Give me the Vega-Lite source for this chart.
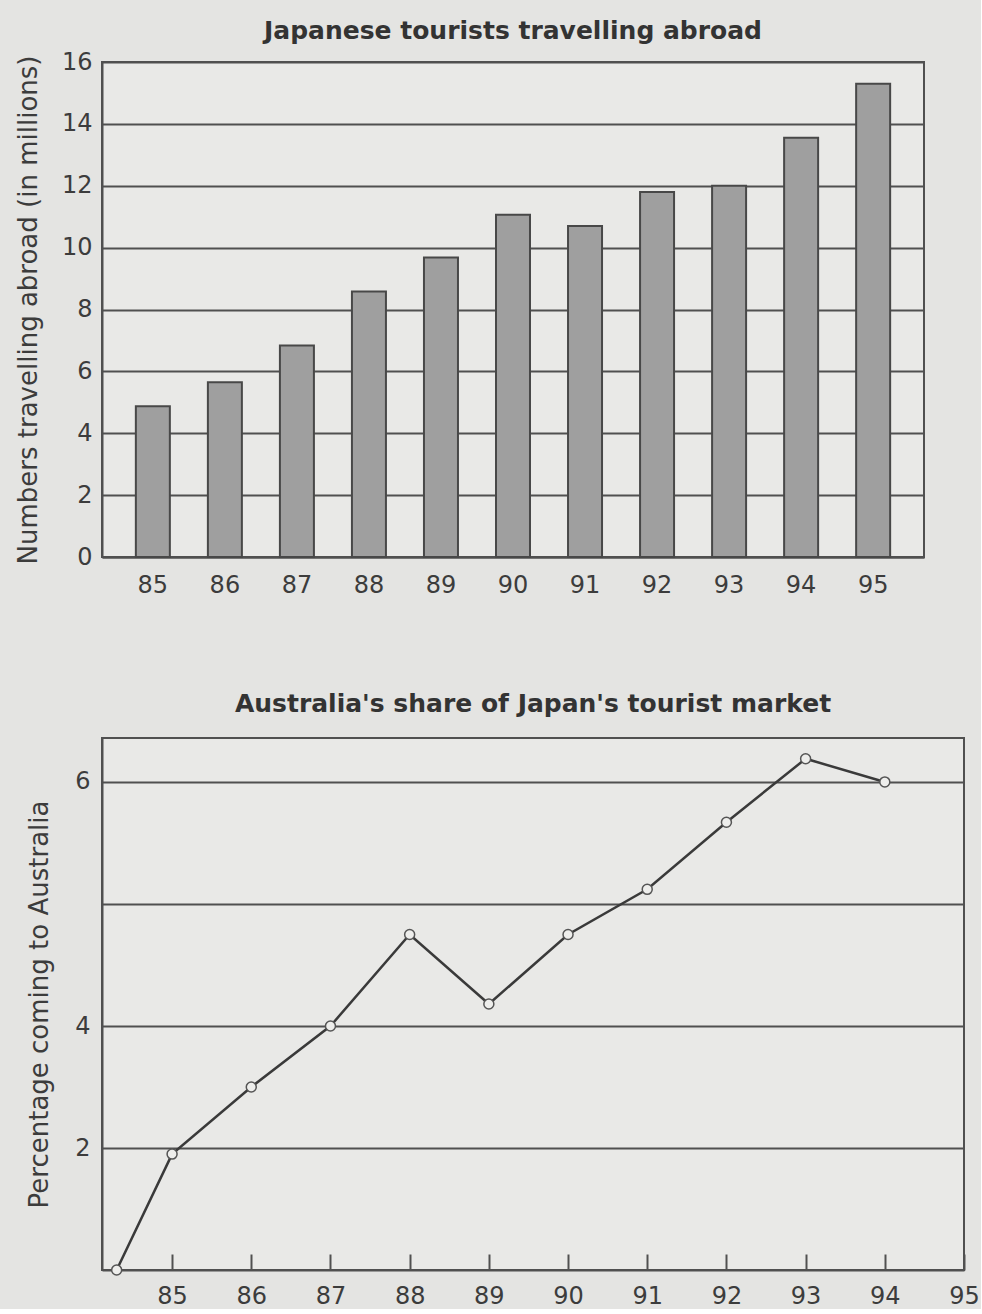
{
  "$schema": "https://vega.github.io/schema/vega-lite/v6.json",
  "background": "#e4e4e2",
  "padding": {"left": 14, "top": 18, "right": 0, "bottom": 0},
  "spacing": 93,
  "config": {
    "font": "DejaVu Sans",
    "view": {"stroke": "#505050", "strokeWidth": 2, "fill": "#e9e9e7"},
    "axis": {
      "labelFont": "DejaVu Sans", "labelFontSize": 24, "labelColor": "#3c3c3c",
      "titleFont": "DejaVu Sans", "titleFontSize": 26, "titleFontWeight": "normal", "titleColor": "#3c3c3c",
      "domainColor": "#505050", "domainWidth": 2,
      "gridColor": "#505050", "gridWidth": 1.8, "gridOpacity": 1,
      "ticks": false
    },
    "title": {"font": "DejaVu Sans", "fontSize": 25, "fontWeight": "bold", "color": "#333333", "anchor": "middle"}
  },
  "vconcat": [
    {
      "title": {"text": "Japanese tourists travelling abroad", "offset": 6},
      "width": 822,
      "height": 495,
      "data": {"values": [
        {"year": "85", "tourists": 4.87},
        {"year": "86", "tourists": 5.65},
        {"year": "87", "tourists": 6.84},
        {"year": "88", "tourists": 8.58},
        {"year": "89", "tourists": 9.68},
        {"year": "90", "tourists": 11.06},
        {"year": "91", "tourists": 10.7},
        {"year": "92", "tourists": 11.8},
        {"year": "93", "tourists": 12.0},
        {"year": "94", "tourists": 13.55},
        {"year": "95", "tourists": 15.3}
      ]},
      "mark": {"type": "bar", "fill": "#9f9f9f", "stroke": "#484848", "strokeWidth": 2},
      "encoding": {
        "x": {"field": "year", "type": "ordinal",
          "scale": {"paddingInner": 0.528, "paddingOuter": 0.47},
          "axis": {"title": null, "labelAngle": 0, "labelPadding": 16, "grid": false}},
        "y": {"field": "tourists", "type": "quantitative",
          "scale": {"domain": [0, 16], "nice": false},
          "axis": {"title": "Numbers travelling abroad (in millions)", "values": [0, 2, 4, 6, 8, 10, 12, 14, 16], "labelPadding": 10, "titlePadding": 20}}
      }
    },
    {
      "title": {"text": "Australia's share of Japan's tourist market", "offset": 21},
      "width": 862,
      "height": 532,
      "data": {"values": [
        {"year": 84.3, "share": 0},
        {"year": 85, "share": 1.9},
        {"year": 86, "share": 3.0},
        {"year": 87, "share": 4.0},
        {"year": 88, "share": 4.75},
        {"year": 89, "share": 4.18},
        {"year": 90, "share": 4.75},
        {"year": 91, "share": 5.12},
        {"year": 92, "share": 5.67},
        {"year": 93, "share": 6.19},
        {"year": 94, "share": 6.0}
      ]},
      "encoding": {
        "x": {"field": "year", "type": "quantitative",
          "scale": {"domain": [84.115, 95], "nice": false, "zero": false},
          "axis": {"title": null, "values": [85, 86, 87, 88, 89, 90, 91, 92, 93, 94, 95], "format": "d", "grid": false,
            "ticks": true, "tickSize": -16, "tickColor": "#505050", "tickWidth": 2, "labelPadding": 30, "labelFlush": false, "labelOverlap": false}},
        "y": {"field": "share", "type": "quantitative",
          "scale": {"domain": [0, 4, 6.36], "range": [532, 288, 0], "nice": false, "zero": false},
          "axis": {"title": "Percentage coming to Australia", "values": [2, 4, 5, 6], "labelExpr": "datum.value == 5 ? '' : datum.label", "labelPadding": 12, "titlePadding": 22}}
      },
      "layer": [
        {"mark": {"type": "line", "color": "#3a3a3a", "strokeWidth": 2.5}},
        {"mark": {"type": "point", "filled": true, "fill": "#eeeeec", "stroke": "#555555", "strokeWidth": 1.5, "size": 100, "opacity": 1}}
      ]
    }
  ]
}
